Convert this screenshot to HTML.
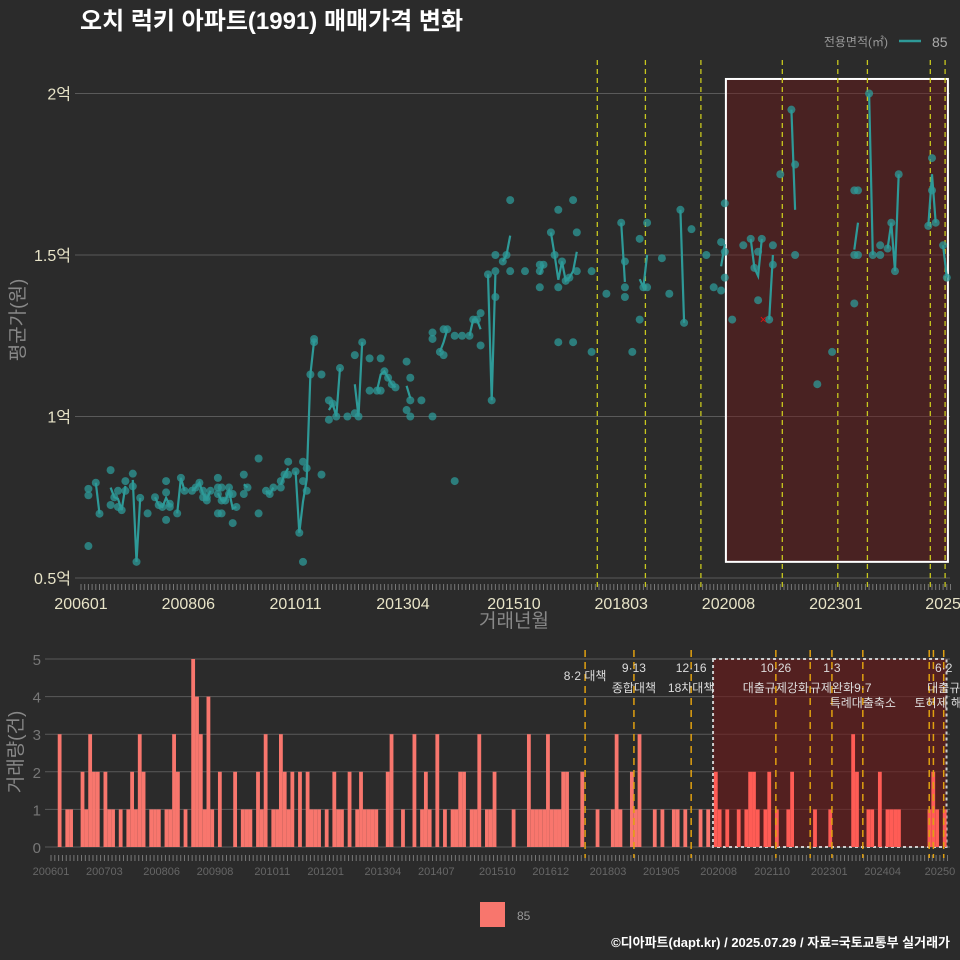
<!DOCTYPE html>
<html><head><meta charset="utf-8">
<style>
html,body{margin:0;padding:0;background:#2b2b2b;}
svg{display:block;font-family:"Liberation Sans","Noto Sans CJK KR",sans-serif;}
</style></head>
<body>
<svg id="c" width="960" height="960" viewBox="0 0 960 960">
<rect width="960" height="960" fill="#2b2b2b"/>
<text x="80" y="29" fill="#ffffff" font-size="24" font-weight="bold">오치 럭키 아파트(1991) 매매가격 변화</text>
<g>
<text x="888" y="46" fill="#999" font-size="12" text-anchor="end">전용면적(㎡)</text>
<line x1="899" y1="41" x2="921" y2="41" stroke="#2e9a98" stroke-width="2.5"/>
<text x="932" y="47" fill="#aaa" font-size="14">85</text>
</g>
<g id="top"></g>
<g id="bot"></g>
<text transform="translate(24,320) rotate(-90)" fill="#888" font-size="19" text-anchor="middle">평균가(원)</text>
<text x="514" y="627" fill="#888" font-size="19" text-anchor="middle">거래년월</text>
<text transform="translate(22,752) rotate(-90)" fill="#888" font-size="19" text-anchor="middle">거래량(건)</text>
<rect x="480" y="902" width="25" height="25" fill="#f8766d"/>
<text x="517" y="920" fill="#999" font-size="12">85</text>
<text x="950" y="947" fill="#fff" font-size="13" font-weight="bold" text-anchor="end">©디아파트(dapt.kr) / 2025.07.29 / 자료=국토교통부 실거래가</text>
</svg>
<script>
const ptMonth=[2,2,2,4,5,8,8,9,10,10,11,12,12,14,14,15,16,18,20,21,22,23,23,23,24,24,26,27,28,30,31,32,33,33,34,34,35,37,37,37,37,38,38,38,39,40,40,41,41,42,44,44,45,48,48,50,51,52,54,54,55,56,56,58,59,60,60,60,61,61,62,63,63,65,65,67,67,68,69,70,72,74,74,75,76,78,78,80,81,81,82,83,84,85,88,88,89,89,89,92,95,95,95,97,98,98,99,101,101,103,105,106,107,108,108,110,111,112,112,112,114,115,116,116,120,124,124,124,125,127,128,129,129,129,130,131,132,133,133,134,134,138,138,142,146,147,147,147,149,151,151,152,153,153,157,159,162,163,165,169,171,173,173,174,174,174,176,179,181,182,183,183,184,186,187,187,189,192,193,193,199,203,209,209,209,210,210,213,214,216,216,218,219,220,221,229,230,230,231,233,234];
const ptValue=[0.776,0.756,0.599,0.795,0.699,0.834,0.726,0.75,0.77,0.72,0.71,0.80,0.77,0.823,0.784,0.55,0.748,0.70,0.75,0.726,0.72,0.80,0.765,0.68,0.72,0.73,0.70,0.81,0.77,0.77,0.78,0.795,0.75,0.77,0.74,0.75,0.77,0.81,0.78,0.76,0.70,0.78,0.74,0.70,0.74,0.78,0.76,0.76,0.67,0.72,0.82,0.76,0.78,0.87,0.70,0.77,0.76,0.78,0.80,0.78,0.82,0.86,0.82,0.83,0.64,0.86,0.80,0.55,0.84,0.77,1.13,1.24,1.23,1.13,0.82,1.05,0.99,1.04,1.0,1.15,1.0,1.19,1.01,1.0,1.23,1.18,1.08,1.08,1.18,1.08,1.14,1.12,1.10,1.09,1.17,1.02,1.12,1.05,1.0,1.05,1.26,1.24,1.0,1.2,1.19,1.27,1.27,1.25,0.80,1.25,1.25,1.30,1.30,1.32,1.22,1.44,1.05,1.50,1.45,1.37,1.48,1.50,1.67,1.45,1.45,1.45,1.47,1.40,1.47,1.57,1.50,1.64,1.40,1.23,1.48,1.42,1.43,1.67,1.23,1.57,1.45,1.45,1.2,1.38,1.60,1.48,1.40,1.37,1.2,1.55,1.30,1.40,1.60,1.40,1.49,1.38,1.64,1.29,1.58,1.50,1.40,1.54,1.39,1.66,1.51,1.43,1.30,1.53,1.55,1.46,1.51,1.36,1.55,1.30,1.53,1.47,1.75,1.95,1.78,1.50,1.10,1.20,1.50,1.35,1.70,1.70,1.50,2.0,1.5,1.53,1.50,1.52,1.60,1.45,1.75,1.59,1.80,1.70,1.60,1.53,1.43];
const barMonth=[2,4,5,8,9,10,11,12,14,15,16,18,20,21,22,23,24,26,27,28,30,31,32,33,35,37,38,39,40,41,42,44,48,50,51,52,54,55,56,58,59,60,61,62,63,65,67,68,69,70,72,74,75,76,78,80,81,82,83,84,85,88,89,92,95,97,98,99,101,103,105,106,107,108,110,111,112,114,115,116,121,125,126,127,128,129,130,131,132,133,134,135,139,143,147,148,149,152,153,154,158,160,163,164,166,170,172,174,175,177,180,182,183,184,185,187,188,190,193,194,200,204,210,211,214,215,217,219,220,221,222,230,231,232,234];
const barCount=[3,1,1,2,1,3,2,2,2,1,1,1,1,2,1,3,2,1,1,1,1,1,3,2,1,5,4,3,1,4,1,2,2,1,1,1,2,1,3,1,1,3,2,1,2,2,2,1,1,1,1,2,1,1,2,1,2,1,1,1,1,2,3,1,3,1,2,1,3,1,1,1,2,2,1,1,3,1,1,2,1,3,1,1,1,1,3,1,1,1,2,2,2,1,1,3,1,2,1,3,1,1,1,1,1,1,1,2,1,1,1,1,2,2,1,1,2,1,1,2,1,1,3,2,1,1,2,1,1,1,1,1,2,1,1];
const yTicksTop=[0.5,1,1.5,2];
const yTickLabelsTop=["0.5억","1억","1.5억","2억"];
const xTickMonthsTop=[0,29,58,87,117,146,175,204,233];
const xTickLabelsTop=["200601","200806","201011","201304","201510","201803","202008","202301","2025"];
const xTickMonthsBot=[0,14,29,43,58,72,87,101,117,131,146,160,175,189,204,218,233];
const xTickLabelsBot=["200601","200703","200806","200908","201011","201201","201304","201407","201510","201612","201803","201905","202008","202110","202301","202404","20250"];
const eventsTop=[139,152,167,189,204,212,229,233];
const eventsBot=[140,152.8,167.8,190,199,204.7,212.8,230.2,231.3,234];
const yTicksBot=[0,1,2,3,4,5];
const eventLabels=[[140,"","8·2 대책","",680],[152.8,"9·13","종합대책","",692],[167.8,"12·16","18차대책","",692],[190,"10·26","대출규제강화","",692],[204.7,"1·3","규제완화","",692],[212.8,"","9·7","특례대출축소",692],[234,"6·2","대출규","토허제 해제",692]];

const NS="http://www.w3.org/2000/svg";
function mk(p,t,a){const e=document.createElementNS(NS,t);for(const k in a)e.setAttribute(k,a[k]);p.appendChild(e);return e;}
const xT=m=>81+3.7*m, yT=v=>578-(v-0.5)*323;
const xB=m=>52+3.815*m, yB=c=>847-c*37.6;
const gTop=document.getElementById('top'), gBot=document.getElementById('bot');

yTicksTop.forEach((v,i)=>{
 let l=mk(gTop,'line',{x1:75,x2:950,y1:yT(v),y2:yT(v),stroke:'#5a5a5a','stroke-width':1});
 
 
 let t=mk(gTop,'text',{x:71,y:yT(v)+6,fill:'#e8e4c8','font-size':16,'text-anchor':'end'});
 t.textContent=yTickLabelsTop[i];
 
 
});
for(let m=0;m<=235;m++){let l=mk(gTop,'line',{x1:xT(m),x2:xT(m),y1:584,y2:590,stroke:'#777','stroke-width':1});
 
 }
xTickMonthsTop.forEach((m,i)=>{let t=mk(gTop,'text',{x:xT(m),y:609,fill:'#e8e4c8','font-size':16,'text-anchor':'middle'});t.textContent=xTickLabelsTop[i];
 
 });
let hb=mk(gTop,'rect',{x:xT(174.3),y:yT(2.045),width:xT(234.3)-xT(174.3),height:yT(0.55)-yT(2.045),fill:'rgba(110,25,25,0.45)',stroke:'#fff','stroke-width':2});


eventsTop.forEach(m=>{let l=mk(gTop,'line',{x1:xT(m)+2,x2:xT(m)+2,y1:60,y2:590,stroke:'#c8c81e','stroke-width':1.3,'stroke-dasharray':'5,4'});
 
 });
const sums={};ptMonth.forEach((m,i)=>{(sums[m]=sums[m]||[]).push(ptValue[i]);});
const months=Object.keys(sums).map(Number).sort((a,b)=>a-b);
const mean=m=>sums[m].reduce((a,b)=>a+b,0)/sums[m].length;
let segs=[],cur=[];
months.forEach((m,i)=>{if(i>0&&m-months[i-1]!==1){segs.push(cur);cur=[];}cur.push(m);});segs.push(cur);
segs.forEach(s=>{if(s.length<2)return;let p=mk(gTop,'polyline',{points:s.map(m=>xT(m)+','+yT(mean(m))).join(' '),fill:'none',stroke:'#2e9a98','stroke-width':2.2});
 
 });
ptMonth.forEach((m,i)=>{let c=mk(gTop,'circle',{cx:xT(m),cy:yT(ptValue[i]),r:4,fill:'#2e9a98','fill-opacity':0.75});
 
 });
let rx=mk(gTop,'text',{x:xT(184.4),y:yT(1.30)+4,fill:'#e01010','font-size':12,'text-anchor':'middle'});rx.textContent='×';



yTicksBot.forEach(v=>{
 let l=mk(gBot,'line',{x1:45,x2:950,y1:yB(v),y2:yB(v),stroke:'#5a5a5a','stroke-width':1});
 
 
 let t=mk(gBot,'text',{x:41,y:yB(v)+6,fill:'#777','font-size':15,'text-anchor':'end'});t.textContent=v;
 
 
});
for(let m=0;m<=235;m++){let l=mk(gBot,'line',{x1:xB(m)-1,x2:xB(m)-1,y1:855,y2:861,stroke:'#777','stroke-width':1});
 
 }
xTickMonthsBot.forEach((m,i)=>{let t=mk(gBot,'text',{x:xB(m)-1,y:875,fill:'#666','font-size':11,'text-anchor':'middle'});t.textContent=xTickLabelsBot[i];
 
 });
let bb=mk(gBot,'rect',{x:xB(173.8)-2,y:yB(5),width:xB(235)-xB(173.8),height:yB(0)-yB(5),fill:'rgba(110,25,25,0.6)',stroke:'#ccc','stroke-width':2,'stroke-dasharray':'3,3'});


barMonth.forEach((m,i)=>{let r=mk(gBot,'rect',{x:xB(m)-1.9,y:yB(barCount[i]),width:3.8,height:yB(0)-yB(barCount[i]),fill:m>=174?'#ff5c55':'#f8766d'});
 
 });
eventsBot.forEach(m=>{let l=mk(gBot,'line',{x1:xB(m)-1,x2:xB(m)-1,y1:650,y2:858,stroke:'#e0a010','stroke-width':1.5,'stroke-dasharray':'7,5'});
 
 });
eventLabels.forEach(e=>{const x=xB(e[0])-1;
 [[e[1],672],[e[2],e[4]],[e[3],707]].forEach(([s,y])=>{if(!s)return;let t=mk(gBot,'text',{x:x,y:y,fill:'#ddd','font-size':12,'text-anchor':'middle'});t.textContent=s;
 
 });});
</script>
</body></html>
